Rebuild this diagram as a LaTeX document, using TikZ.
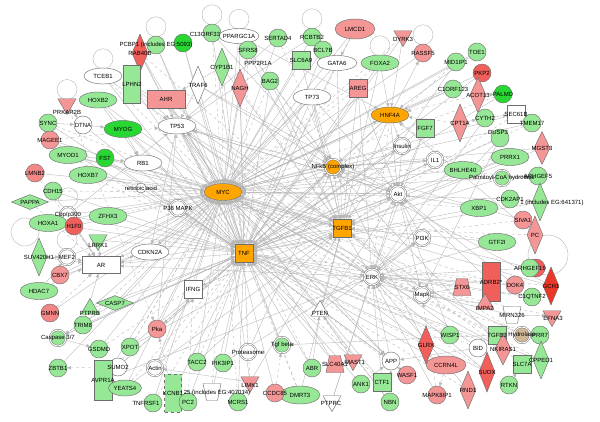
\documentclass[tikz,border=0pt]{standalone}
\usepackage{fontspec}
\setmainfont{Liberation Sans}
\usetikzlibrary{shapes.geometric,arrows.meta}
\definecolor{lgreen}{RGB}{150,232,150}
\definecolor{bgreen}{RGB}{40,215,50}
\definecolor{lred}{RGB}{245,150,150}
\definecolor{mred}{RGB}{240,95,90}
\definecolor{dred}{RGB}{235,55,40}
\definecolor{orng}{RGB}{255,165,0}
\definecolor{edgec}{RGB}{182,182,182}
\definecolor{nodeb}{RGB}{110,110,110}
\pgfdeclarelayer{bg}
\pgfdeclarelayer{fg}
\pgfsetlayers{bg,main,fg}
\tikzset{
  shp/.style={draw=nodeb, line width=0.45pt, inner sep=0pt},
  ell/.style={shp, ellipse, minimum width=38pt, minimum height=16pt},
  cir/.style={shp, circle, minimum size=18pt},
  dci/.style={shp, circle, minimum size=16pt, double=white, double distance=1pt},
  sqr/.style={shp, rectangle, minimum size=18pt},
  hrect/.style={shp, rectangle, minimum width=38pt, minimum height=17pt},
  vrect/.style={shp, rectangle, minimum width=18pt, minimum height=38pt},
  dia/.style={shp, diamond, minimum width=16pt, minimum height=38pt},
  hdia/.style={shp, diamond, minimum width=37pt, minimum height=15pt},
  tdn/.style={shp, regular polygon, regular polygon sides=3, shape border rotate=180, minimum size=21pt},
  tup/.style={shp, regular polygon, regular polygon sides=3, minimum size=21pt},
  trap/.style={shp, inner sep=1pt, trapezium, trapezium stretches=true, trapezium left angle=72, trapezium right angle=72, minimum width=18pt, minimum height=17pt},
  itrap/.style={trap, shape border rotate=180},
  lbl/.style={inner sep=0pt, font=\fontsize{6}{7}\selectfont, text=black},
  lnk/.style={draw=edgec, line width=0.35pt, -{Triangle[length=3.6pt,width=3.2pt]}},
  dlnk/.style={lnk, dashed},
  loopc/.style={draw=edgec, line width=0.4pt}
}
\newcommand{\nd}[5]{\node[#2] (#1) at (#3,#4) {};
  \begin{pgfonlayer}{fg}\node[lbl] at (#1) {#5};\end{pgfonlayer}}
\newcommand{\lb}[3]{\begin{pgfonlayer}{fg}\node[lbl] at (#1,#2) {#3};\end{pgfonlayer}}
\begin{document}
\begin{tikzpicture}[x=1pt,y=-1pt]
\begin{pgfonlayer}{bg}
\fill[white] (0,0) rectangle (600,421);
\end{pgfonlayer}
\useasboundingbox (0,0) rectangle (600,421);
% ---------- top left
\nd{rab}{dia,fill=mred}{140}{53}{RAB40B}
\nd{pcbp}{cir,fill=lgreen}{156}{45}{PCBP1 (includes EG:5093)}
\nd{bgc}{cir,fill=bgreen}{183}{43}{}
\nd{tceb1}{ell,fill=white}{103}{76}{TCEB1}
\nd{lphn2}{vrect,fill=lgreen,minimum width=17pt}{132}{84}{LPHN2}
\nd{hoxb2}{ell,fill=lgreen}{98}{100}{HOXB2}
\nd{prkar}{tdn,fill=lred}{67}{104}{}
\lb{67}{112}{PRKAR2B}
\nd{sync}{cir,fill=lgreen}{48}{123}{SYNC}
\nd{dtna}{cir,fill=white}{83}{125}{DTNA}
\nd{myog}{ell,fill=bgreen,minimum height=17pt}{123}{129}{MYOG}
\nd{magee}{cir,fill=lred}{50}{140}{MAGEE1}
% ---------- top middle
\nd{c13}{cir,fill=lgreen}{212}{33}{}
\lb{205}{34}{C13ORF33}
\nd{pparg}{ell,fill=white,minimum width=40pt,minimum height=15pt}{239}{36}{PPARGC1A}
\nd{sertad}{cir,fill=lgreen}{278}{38}{SERTAD4}
\nd{sfrs}{cir,fill=lgreen}{248}{50}{SFRS8}
\lb{258}{63}{PPP2R1A}
\nd{cyp}{dia,fill=lgreen}{222}{67}{CYP1B1}
\nd{traf}{dia,fill=white}{198}{85}{TRAF6}
\nd{nagh}{dia,fill=lred}{240}{88}{NAGH}
\nd{bag2}{cir,fill=lgreen}{270}{81}{BAG2}
\nd{ahr}{hrect,fill=lred,minimum height=18pt}{166}{99}{AHR}
\nd{tp53}{ell,fill=white}{177}{126}{TP53}
\nd{slc6}{sqr,fill=lgreen}{301}{60}{SLC6A9}
\nd{rcbtb}{cir,fill=lgreen}{312}{37}{RCBTB2}
\nd{bcl7b}{cir,fill=lgreen}{323}{50}{BCL7B}
\nd{lmcd}{ell,fill=lred,minimum width=40pt,minimum height=20pt}{355}{29}{LMCD1}
\nd{gata6}{ell,fill=white,minimum width=40pt,minimum height=15pt}{337}{63}{GATA6}
\nd{foxa2}{ell,fill=lgreen}{380}{63}{FOXA2}
\nd{dyrk}{tdn,fill=lred}{403}{36}{}
\lb{403}{39}{DYRK3}
\nd{rassf}{cir,fill=lred}{423}{53}{RASSF5}
\nd{mid1}{cir,fill=lgreen}{456}{62}{MID1IP1}
\nd{tp73}{ell,fill=white}{312}{97}{TP73}
\nd{areg}{sqr,fill=lred}{358}{88}{AREG}
\nd{hnf4a}{ell,fill=orng}{390}{115}{HNF4A}
\nd{fgf7}{sqr,fill=lgreen}{425}{128}{FGF7}
\nd{c1orf}{cir,fill=lgreen}{453}{89}{C1ORF123}
% ---------- top right
\nd{toe1}{cir,fill=lgreen}{477}{52}{TOE1}
\nd{pkp2}{cir,fill=mred}{482}{73}{PKP2}
\nd{acot}{dia,fill=lred,minimum height=35pt}{478}{95}{ACOT13}
\nd{palmd}{cir,fill=bgreen}{503}{94}{PALMD}
\nd{cpt1a}{dia,fill=lred}{460}{123}{CPT1A}
\nd{cyth2}{cir,fill=lgreen}{485}{118}{CYTH2}
\nd{sec61}{sqr,fill=white}{516}{114}{SEC61B}
\nd{tmem}{cir,fill=lgreen}{532}{123}{TMEM17}
\nd{dusp3}{cir,fill=lgreen}{500}{138}{}
\lb{498}{132}{DUSP3}
\nd{mgst3}{dia,fill=lred,minimum height=33pt}{542}{148}{MGST3}
% ---------- left
\nd{myod1}{ell,fill=lgreen,minimum height=17pt}{68}{155}{MYOD1}
\nd{fst}{cir,fill=bgreen}{105}{158}{FST}
\nd{lmnb2}{cir,fill=lred!75!mred}{35}{173}{LMNB2}
\nd{hoxb7}{ell,fill=lgreen,minimum height=17pt}{88}{175}{HOXB7}
\nd{rb1}{ell,fill=white}{143}{163}{RB1}
\nd{cdh15}{cir,fill=lgreen}{53}{191}{CDH15}
\nd{pappa}{hdia,fill=lgreen}{30}{202}{PAPPA}
\nd{retin}{shp,circle,minimum size=10pt,fill=white}{141}{188}{retinoic acid}
\nd{cbp}{dci,fill=white}{68}{215}{Cbp/p300}
\nd{hoxa1}{ell,fill=lgreen,minimum height=17pt}{48}{223}{HOXA1}
\nd{h1f0}{cir,fill=mred}{74}{226}{H1F0}
\nd{zfhx3}{ell,fill=lgreen,minimum height=17pt}{108}{216}{ZFHX3}
\nd{lrrk1}{tdn,fill=lgreen}{98}{240}{}
\lb{98}{245}{LRRK1}
\nd{suv}{dia,fill=lgreen}{39}{257}{SUV420H1}
\nd{mef2}{dci,fill=white}{67}{257}{MEF2}
\nd{ar}{hrect,fill=white}{101}{265}{AR}
\nd{cbx7}{cir,fill=lred}{60}{275}{CBX7}
\nd{cdkn2a}{ell,fill=white}{150}{252}{CDKN2A}
% ---------- hubs
\nd{myc}{ell,fill=orng,minimum height=17pt}{223}{192}{MYC}
\nd{p38}{dci,fill=white}{178}{208}{P38 MAPK}
\nd{tnf}{sqr,fill=orng}{244}{253}{TNF}
\nd{insulin}{dci,fill=white}{402}{146}{Insulin}
\nd{nfkb}{dci,fill=orng}{333}{167}{NFkB (complex)}
\nd{il1}{dci,fill=white}{435}{160}{IL1}
\nd{akt}{dci,fill=white}{398}{194}{Akt}
\nd{tgfb1}{sqr,fill=orng}{342}{228}{TGFB1}
\nd{pi3k}{dci,fill=white}{422}{238}{PI3K}
\nd{erk}{dci,fill=white}{372}{277}{ERK}
% ---------- right
\nd{prrx1}{ell,fill=lgreen,minimum height=17pt}{510}{157}{PRRX1}
\nd{bhlhe}{ell,fill=lgreen,minimum height=17pt}{463}{170}{BHLHE40}
\nd{palm}{dci,fill=lgreen}{502}{178}{Palmitoyl-CoA hydrolase}
\nd{arhgef5}{cir,fill=lgreen}{538}{176}{ARHGEF5}
\nd{cdk2ap}{cir,fill=lgreen}{510}{199}{CDK2AP1}
\nd{eg641}{dia,fill=lgreen}{540}{202}{}
\lb{552}{203}{1 (includes EG:641371)}
\nd{xbp1}{ell,fill=lgreen,minimum height=17pt}{479}{208}{XBP1}
\nd{siva1}{cir,fill=lred}{523}{220}{SIVA1}
\nd{pc}{dia,fill=lred}{535}{235}{PC}
\nd{gtf2i}{ell,fill=lgreen,minimum height=17pt}{497}{242}{GTF2I}
\node[cir,fill=mred] (arhred) at (536,268) {};
\nd{arhgef19}{cir,fill=lgreen}{530}{268}{ARHGEF19}
\nd{adrb2}{vrect,fill=mred,minimum height=39pt}{491}{282}{ADRB2*}
\nd{stx6}{trap,fill=lred}{462}{287}{STX6}
\nd{dok4}{cir,fill=lred}{515}{285}{DOK4}
\nd{gch1}{dia,fill=dred}{551}{286}{GCH1}
\nd{c1qtnf2}{cir,fill=lgreen}{532}{297}{C1QTNF2}
\nd{impa2}{tup,fill=lred}{485}{304}{}
\lb{485}{308}{IMPA2}
\nd{mirn326}{itrap,fill=white}{512}{315}{MIRN326}
\nd{efna3}{tdn,fill=lred}{552}{316}{}
\lb{553}{318}{EFNA3}
\nd{tgfb3}{sqr,fill=lgreen}{497}{335}{TGFB3}
\nd{hydro}{dci,fill=lred!60!lgreen}{522}{335}{Hydrolase}
\nd{prr7}{cir,fill=lgreen}{540}{335}{PRR7}
\nd{bid}{cir,fill=white}{478}{348}{BID}
\nd{nkiras}{dia,fill=lred,minimum height=32pt}{503}{349}{NKIRAS1}
\nd{slc7a}{sqr,fill=lgreen}{522}{364}{SLC7A}
\nd{cpped}{dia,fill=lgreen}{541}{360}{CPPED1}
\nd{suox}{dia,fill=mred,minimum height=40pt}{487}{372}{SUOX}
\nd{rtkn}{cir,fill=lgreen}{509}{385}{RTKN}
\nd{rnd1}{dia,fill=lred}{468}{390}{RND1}
\nd{ccrn}{ell,fill=lred,minimum width=40pt,minimum height=18pt}{446}{365}{CCRN4L}
\nd{wisp1}{cir,fill=lgreen}{450}{335}{WISP1}
% ---------- bottom middle
\nd{mapk}{dci,fill=white}{422}{295}{Mapk}
\nd{pten}{tup,fill=white}{320}{311}{}
\lb{320}{313}{PTEN}
\nd{glrx}{dia,fill=mred}{426}{345}{GLRX}
\nd{abr}{cir,fill=lgreen}{312}{368}{ABR}
\nd{slc40}{trap,fill=lred}{335}{364}{SLC40A1}
\nd{mast1}{tdn,fill=lred}{353}{360}{}
\lb{355}{362}{MAST1}
\nd{app}{cir,fill=white}{391}{361}{APP}
\nd{ank1}{cir,fill=lgreen}{361}{384}{ANK1}
\nd{ctf1}{sqr,fill=lgreen}{382}{382}{CTF1}
\nd{wasf1}{cir,fill=lred}{407}{375}{WASF1}
\nd{nbn}{cir,fill=lgreen}{390}{402}{NBN}
\nd{mapk8}{cir,fill=lred}{437}{395}{MAPK8IP1}
\nd{ptprc}{tdn,fill=white}{332}{401}{}
\lb{331}{403}{PTPRC}
\nd{dmrt3}{ell,fill=lgreen,minimum width=40pt,minimum height=18pt}{300}{395}{DMRT3}
\nd{ifng}{sqr,fill=white}{193}{289}{IFNG}
\nd{pka}{cir,fill=lred}{157}{329}{Pka}
\nd{tgfb}{dci,fill=lgreen}{282}{345}{Tgf beta}
\nd{prot}{dci,fill=white}{248}{352}{Proteasome}
\nd{tacc2}{cir,fill=lgreen}{197}{362}{TACC2}
\nd{pik3ip}{cir,fill=lgreen}{223}{363}{PIK3IP1}
\nd{actin}{dci,fill=white}{155}{368}{Actin}
\nd{limk1}{tdn,fill=lred}{250}{382}{}
\lb{250}{385}{LIMK1}
\nd{ccdc}{cir,fill=lred}{275}{393}{CCDC85}
\nd{mcrs}{cir,fill=lgreen}{238}{402}{MCRS1}
\nd{eg407}{itrap,fill=white}{212}{392}{}
\lb{217}{393}{25 (includes EG:407014)}
\nd{kcnb1}{vrect,fill=lgreen,dashed,minimum width=17pt}{173}{393}{KCNB1}
\nd{pc2}{cir,fill=lgreen}{188}{402}{PC2}
\nd{tnfrsf}{cir,fill=lgreen}{153}{403}{}
\lb{146}{403}{TNFRSF1}
% ---------- bottom left
\nd{hdac7}{ell,fill=lgreen,minimum height=17pt}{39}{291}{HDAC7}
\nd{gmnn}{cir,fill=lred!70!mred}{50}{313}{GMNN}
\nd{casp7}{hdia,fill=lgreen}{115}{303}{CASP7}
\nd{ptprb}{tup,fill=lgreen}{90}{309}{}
\lb{90}{313}{PTPRB}
\nd{trim8}{cir,fill=lgreen}{83}{325}{TRIM8}
\nd{casp37}{dci,fill=lgreen}{58}{338}{Caspase 3/7}
\nd{gsdmd}{cir,fill=lgreen}{99}{349}{GSDMD}
\nd{xpot}{cir,fill=lgreen}{130}{347}{XPOT}
\nd{zbtb1}{cir,fill=lgreen}{58}{368}{ZBTB1}
\nd{sumo2}{cir,fill=white}{118}{367}{SUMO2}
\nd{avpr}{vrect,fill=lgreen,minimum height=40pt}{103}{380}{AVPR1A}
\nd{yeats}{ell,fill=lgreen,minimum width=33pt}{125}{388}{YEATS4}
% ---------- connectors
\begin{pgfonlayer}{bg}
\foreach \n in {pcbp,tceb1,prkar,pparg,rcbtb,foxa2,rassf,cbp,mef2,c13}
  \draw[loopc] ([yshift=9pt]\n.north) circle[radius=10pt];
\draw[loopc] (548,255) circle[radius=20pt];
\draw[loopc] (25,232) circle[radius=14pt];
\foreach \a/\b in {rab/tp53,rab/myc,pcbp/myc,bgc/myc,tceb1/tp53,lphn2/tp53,lphn2/tnf,hoxb2/myc,hoxb2/rb1,prkar/dtna,sync/dtna,dtna/myog,myog/myc,myog/rb1,myog/tnf,magee/myc,c13/nfkb,pparg/tnf,pparg/myc,pparg/hnf4a,sertad/tp53,sfrs/myc,cyp/ahr,cyp/tnf,traf/nfkb,traf/akt,traf/tp53,nagh/myc,bag2/tnf,ahr/myc,ahr/tnf,ahr/tgfb1,tp53/myc,tp53/tnf,tp53/cdkn2a,tp53/app,tp53/akt,slc6/tgfb1,rcbtb/tp53,bcl7b/myc,lmcd/gata6,gata6/tnf,gata6/myc,foxa2/hnf4a,foxa2/tgfb1,dyrk/hnf4a,hnf4a/rassf,mid1/myc,tp73/myc,tp73/tnf,tp73/cdkn2a,areg/tgfb1,areg/akt,areg/erk,hnf4a/tnf,hnf4a/myc,hnf4a/akt,hnf4a/insulin,fgf7/akt,fgf7/erk,c1orf/hnf4a,toe1/hnf4a,pkp2/myc,acot/palmd,cpt1a/cyth2,cyth2/sec61,tmem/myc,dusp3/erk,dusp3/mapk,mgst3/nfkb,prrx1/tgfb1,bhlhe/myc,palm/arhgef5,xbp1/tnf,xbp1/akt,siva1/pc,gtf2i/tgfb1,arhgef19/erk,adrb2/erk,adrb2/akt,stx6/mapk,dok4/erk,gch1/nfkb,impa2/mapk,mirn326/efna3,tgfb3/tgfb,bid/app,nkiras/nfkb,suox/tnf,wisp1/tnf,glrx/nfkb,wasf1/app,ctf1/erk,nbn/app,ank1/app,mast1/pten,slc40/tnf,abr/pten,ptprc/erk,limk1/actin,mcrs/tnf,pik3ip/pi3k,tacc2/myc,prot/nfkb,tgfb/myc,actin/ifng,pka/myc,ifng/tnf,ifng/myc,pten/akt,pten/pi3k,myod1/myc,myod1/rb1,fst/tgfb1,hoxb7/myc,cbp/myc,cbp/tp53,cbp/ar,hoxa1/myc,h1f0/ar,zfhx3/tnf,lrrk1/ar,mef2/ar,cbx7/ar,ar/myc,ar/tnf,ar/cdkn2a,cdkn2a/myc,hdac7/mef2,casp7/tnf,casp7/casp37,ptprb/tnf,trim8/tnf,casp37/gsdmd,xpot/tnf,avpr/erk,yeats/myc,rb1/myc,rb1/tnf,retin/myc,retin/tnf,p38/tnf,p38/myc,myc/tnf,tnf/nfkb,tgfb1/myc,nfkb/tnf,tgfb1/tnf,akt/nfkb,erk/myc,il1/nfkb,il1/tnf,insulin/akt,insulin/myc,pi3k/akt,mapk/erk,tgfb1/erk,akt/myc,app/tnf,app/erk,ifng/nfkb,tnf/erk,tnf/akt,tgfb1/akt,il1/myc,insulin/tnf,nfkb/myc,tgfb1/nfkb}
  \draw[lnk] (\a) -- (\b);
\foreach \a/\b in {tnf/il1,tnf/insulin,tnf/app,tnf/casp37,tnf/p38,tnf/pka,myc/hnf4a,myc/erk,myc/app,myc/akt,tgfb1/tp53,tgfb1/pten,tgfb1/mapk,tgfb1/ifng,tgfb1/ar,nfkb/il1,nfkb/tp53,nfkb/ar,akt/tp53,akt/mapk,erk/tp53,erk/ar,erk/pi3k,hnf4a/tgfb1,hnf4a/nfkb,tp73/nfkb,tp73/akt,gata6/tgfb1,foxa2/tnf,c1orf/myc,mid1/tgfb1,toe1/myc,pkp2/tnf,palmd/tnf,cyth2/erk,sec61/myc,dusp3/tnf,mgst3/tgfb1,prrx1/tnf,bhlhe/tnf,palm/tgfb1,arhgef5/myc,cdk2ap/myc,eg641/tnf,siva1/nfkb,pc/hnf4a,gtf2i/erk,arhgef19/myc,stx6/erk,dok4/akt,gch1/myc,c1qtnf2/tnf,mirn326/tnf,hydro/myc,tgfb3/tgfb1,bid/tp53,nkiras/myc,cpped/tnf,suox/erk,rnd1/erk,ccrn/tnf,wisp1/akt,glrx/myc,mapk8/erk,ank1/tnf,ctf1/myc,nbn/tp53,slc40/myc,mast1/tnf,abr/tnf,ptprc/akt,dmrt3/tgfb1,ccdc/myc,limk1/myc,mcrs/tgfb1,pik3ip/tnf,tacc2/tgfb1,pc2/tnf,kcnb1/tnf,eg407/tnf,tnfrsf/myc,actin/myc,pka/tp53,yeats/tgfb1,avpr/myc,sumo2/tnf,zbtb1/myc,xpot/tgfb1,gsdmd/myc,casp37/tnf,trim8/ar,ptprb/myc,casp7/myc,gmnn/myc,hdac7/myc,cbx7/myc,mef2/myc,suv/ar,lrrk1/tnf,h1f0/myc,hoxa1/tnf,cbp/tnf,pappa/myc,cdh15/tnf,lmnb2/myc,hoxb7/tgfb1,fst/tnf,myod1/tgfb1,magee/tnf,sync/tnf,dtna/tnf,hoxb2/tnf,lphn2/tgfb1,tceb1/tnf,rab/tnf,pcbp/tnf,bgc/tnf,c13/tnf,pparg/tgfb1,sertad/myc,sfrs/nfkb,cyp/tgfb1,traf/tnf,nagh/tnf,bag2/tgfb1,slc6/myc,rcbtb/myc,bcl7b/tnf,lmcd/myc,dyrk/tnf,rassf/myc,areg/tnf,fgf7/tnf,tp73/tgfb1}
  \draw[lnk] (\a) -- (\b);
\foreach \a/\b in {tceb1/myc,c13/myc,pparg/nfkb,sertad/nfkb,cyp/myc,bag2/myc,areg/myc,hnf4a/erk,cpt1a/hnf4a,acot/hnf4a,bhlhe/hnf4a,cdk2ap/eg641,prrx1/myc,gtf2i/myc,xbp1/myc,siva1/tnf,pc/tgfb1,arhgef5/nfkb,tmem/tnf,sec61/tgfb1,palmd/myc,mid1/tnf,stx6/myc,adrb2/myc,gch1/tnf,c1qtnf2/erk,hydro/tgfb1,prr7/tnf,cpped/myc,slc7a/tgfb1,rtkn/slc7a,rnd1/tnf,suox/myc,ccrn/mapk8,mapk8/mapk,wisp1/myc,glrx/tnf,ctf1/tnf,app/myc,dmrt3/myc,ccdc/tgfb,eg407/myc,kcnb1/pka,pc2/ifng,tnfrsf/tnf,tacc2/tnf,lmnb2/ar,pappa/ar,cdh15/myc,zfhx3/myc,suv/mef2,gmnn/ar,sumo2/zbtb1,sumo2/myc,gsdmd/tnf,xpot/myc,trim8/myc,myod1/tnf,hoxb7/tnf,fst/myc,prkar/pka,sync/myc,magee/tp53,lphn2/myc,rab/tgfb1,nagh/tgfb1,sfrs/tnf,dyrk/myc,foxa2/myc,lmcd/tnf,efna3/erk,impa2/tnf,nkiras/tnf,bid/tnf,wasf1/tnf,nbn/myc,abr/myc,dmrt3/tnf,limk1/tnf,mcrs/myc,yeats/tnf,avpr/tnf,tgfb3/myc,dok4/tnf,tgfb/tnf,prot/tnf,pka/tnf,actin/tnf}
  \draw[dlnk] (\a) -- (\b);
\end{pgfonlayer}
\end{tikzpicture}
\end{document}
